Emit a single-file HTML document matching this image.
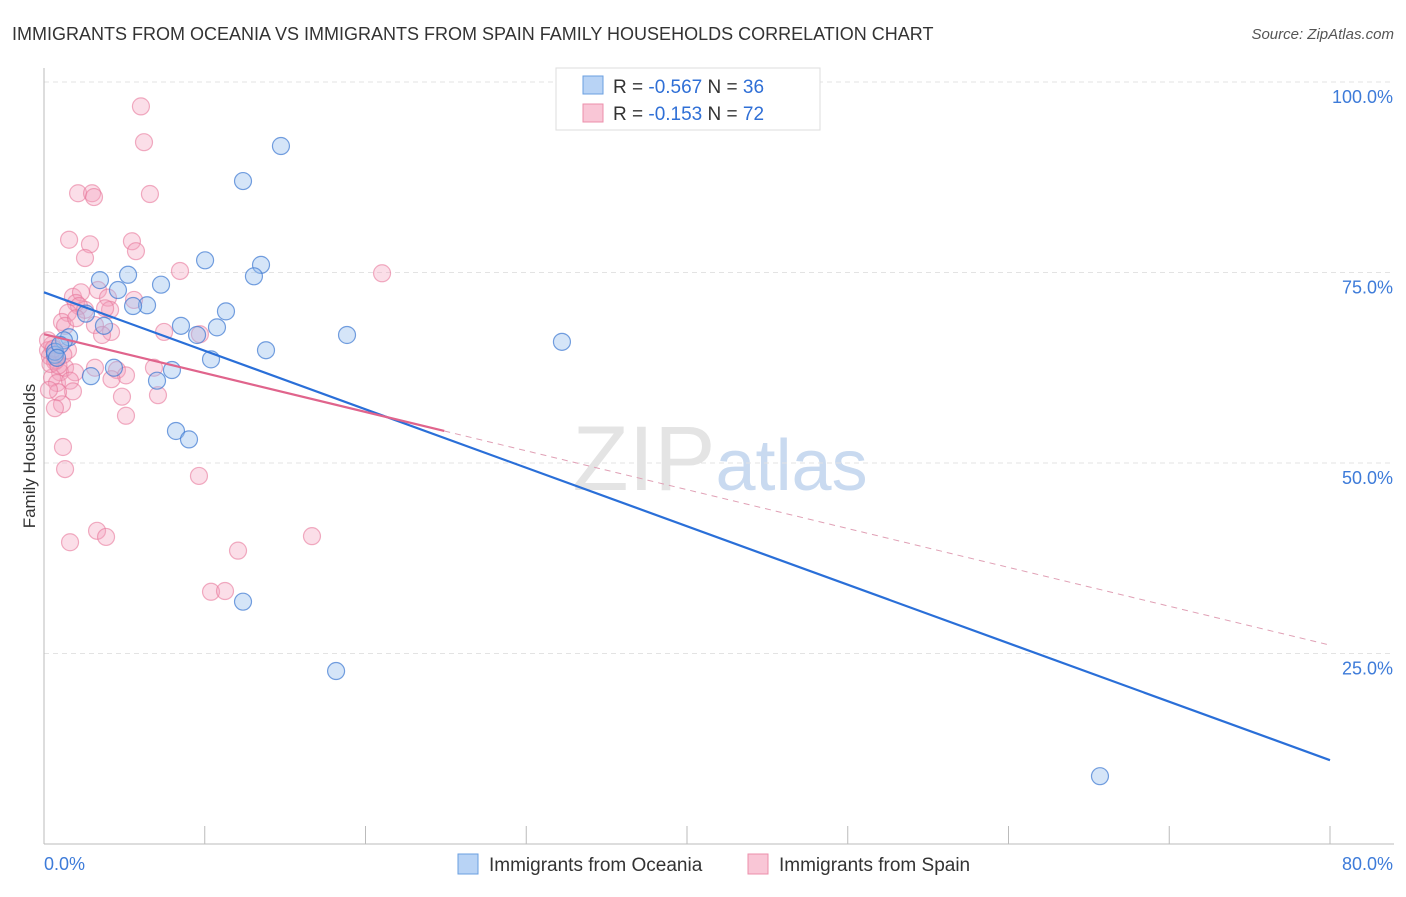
<!DOCTYPE html>
<html><head><meta charset="utf-8"><style>
body{margin:0;background:#fff;font-family:"Liberation Sans",sans-serif}
svg text{font-family:"Liberation Sans",sans-serif}
</style></head><body>
<svg id="c" width="1406" height="892">
<text x="12" y="40" font-size="18" fill="#333">IMMIGRANTS FROM OCEANIA VS IMMIGRANTS FROM SPAIN FAMILY HOUSEHOLDS CORRELATION CHART</text>
<text x="1394" y="39" font-size="15" fill="#555" text-anchor="end" font-style="italic">Source: ZipAtlas.com</text>
<text x="35" y="456" font-size="17" fill="#333" text-anchor="middle" transform="rotate(-90 35 456)">Family Households</text>
<text x="720" y="490" font-size="92" fill="#e4e4e4" text-anchor="middle" font-family="Liberation Serif">ZIP<tspan fill="#c9daf0" font-family="Liberation Sans" font-size="72">atlas</tspan></text>
<g id="grid"></g><g id="pts"></g><g id="lines"></g>
<g>
<rect x="556" y="68" width="264" height="62" fill="#fff" stroke="#ddd"/>
<rect x="583" y="76" width="20" height="18" fill="#b8d3f5" stroke="#6a9fe0"/>
<rect x="583" y="104" width="20" height="18" fill="#f9c6d6" stroke="#ec8fab"/>
<text x="613" y="93" font-size="19" fill="#333">R = <tspan fill="#2f6fd6">-0.567</tspan>   N = <tspan fill="#2f6fd6">36</tspan></text>
<text x="613" y="120" font-size="19" fill="#333">R =  <tspan fill="#2f6fd6">-0.153</tspan>   N = <tspan fill="#2f6fd6">72</tspan></text>
</g>
<g>
<rect x="458" y="854" width="20" height="20" fill="#b8d3f5" stroke="#6a9fe0"/>
<text x="489" y="871" font-size="19" fill="#333">Immigrants from Oceania</text>
<rect x="748" y="854" width="20" height="20" fill="#f9c6d6" stroke="#ec8fab"/>
<text x="779" y="871" font-size="19" fill="#333">Immigrants from Spain</text>
</g>
</svg>
<script>
const blueX=[14.74,12.38,10.02,13.50,13.06,3.48,5.23,7.28,4.60,6.41,5.54,11.32,8.52,10.76,3.73,9.52,18.85,32.22,13.81,1.56,1.24,10.39,0.68,0.68,4.35,7.96,2.92,7.03,8.21,9.02,12.38,18.17,65.69,2.61,1.00,0.81];
const blueY=[91.6,87.0,76.6,76.0,74.5,74.0,74.7,73.4,72.7,70.7,70.6,69.9,68.0,67.8,68.0,66.8,66.8,65.9,64.8,66.5,66.1,63.6,64.2,64.6,62.5,62.2,61.4,60.8,54.2,53.1,31.8,22.7,8.9,69.6,65.5,63.8];
const pinkX=[6.03,6.22,2.12,2.99,3.11,6.59,1.56,5.47,2.86,5.72,2.55,8.46,21.03,1.80,2.30,3.36,3.98,1.99,2.18,4.11,1.49,5.60,1.12,3.17,4.17,3.61,7.47,1.31,9.70,0.50,0.25,0.37,0.68,1.00,1.31,1.93,3.17,4.54,5.10,6.84,0.50,0.81,1.62,1.80,0.87,4.85,7.09,0.31,1.12,0.68,5.10,1.18,1.31,9.64,3.30,1.62,3.86,12.07,16.67,10.39,11.26,0.25,0.75,1.49,2.55,0.4,0.9,2.0,3.8,1.2,0.6,4.2];
const pinkY=[96.8,92.1,85.4,85.4,84.9,85.3,79.3,79.1,78.7,77.8,76.9,75.2,74.9,71.8,72.4,72.7,71.7,71.0,70.6,70.1,69.7,71.4,68.5,68.1,67.2,66.8,67.2,68.0,66.9,65.5,64.8,64.0,63.3,61.9,62.5,61.9,62.5,62.2,61.5,62.5,61.2,60.5,60.8,59.4,59.3,58.7,58.9,59.6,57.7,57.2,56.2,52.1,49.2,48.3,41.1,39.6,40.3,38.5,40.4,33.1,33.2,66.1,63.5,64.8,70.1,63.0,62.8,69.0,70.3,64.2,65.0,61.0];
const yTicks=[25,50,75,100];
const yTickLabels=["25.0%","50.0%","75.0%","100.0%"];
const xTicks=[0,10,20,30,40,50,60,70,80];
const xEndLabels=["0.0%","80.0%"];
const blueTrend=[72.4,11.0];
const pinkTrend=[66.9,26.1];
const pinkSolidEnd=24.9;
const NS="http://www.w3.org/2000/svg";
const X=v=>44+v/80*1286, Y=v=>844-v/100*762;
function mk(t,a,p){const e=document.createElementNS(NS,t);for(const k in a)e.setAttribute(k,a[k]);p.appendChild(e);return e;}
const g=document.getElementById('grid');
yTicks.forEach((t,i)=>{
 const l=mk('line',{x1:44,x2:1394,y1:Y(t),y2:Y(t),stroke:'#e3e3e3','stroke-dasharray':'5,4'},g);
 
 
 const tx=mk('text',{x:1393,y:Y(t)+21,'font-size':18,fill:'#3d7bd9','text-anchor':'end'},g);
 tx.textContent=yTickLabels[i];
 
 
});
mk('line',{x1:44,x2:44,y1:68,y2:844,stroke:'#bbb'},g);
mk('line',{x1:44,x2:1394,y1:844,y2:844,stroke:'#bbb'},g);
xTicks.forEach(t=>{const l=mk('line',{x1:X(t),x2:X(t),y1:826,y2:844,stroke:'#bbb'},g);
 
 });
const a=mk('text',{x:44,y:870,'font-size':18,fill:'#3d7bd9'},g);a.textContent=xEndLabels[0];


const b=mk('text',{x:1393,y:870,'font-size':18,fill:'#3d7bd9','text-anchor':'end'},g);b.textContent=xEndLabels[1];


const p=document.getElementById('pts');
pinkX.forEach((x,i)=>{const c=mk('circle',{cx:X(x),cy:Y(pinkY[i]),r:8.5,fill:'rgba(244,160,188,0.35)',stroke:'rgba(232,120,155,0.6)','stroke-width':1.2},p);
 
 });
blueX.forEach((x,i)=>{const c=mk('circle',{cx:X(x),cy:Y(blueY[i]),r:8.5,fill:'rgba(150,190,238,0.4)',stroke:'rgba(60,120,210,0.7)','stroke-width':1.2},p);
 
 });
const L=document.getElementById('lines');
const bl=mk('line',{x1:X(0),y1:Y(blueTrend[0]),x2:X(80),y2:Y(blueTrend[1]),stroke:'#2a6fd8','stroke-width':2.2},L);


const pm=v=>pinkTrend[0]+(pinkTrend[1]-pinkTrend[0])*v/80;
const ps=mk('line',{x1:X(0),y1:Y(pinkTrend[0]),x2:X(pinkSolidEnd),y2:Y(pm(pinkSolidEnd)),stroke:'#e0648c','stroke-width':2.2},L);


const pd=mk('line',{x1:X(pinkSolidEnd),y1:Y(pm(pinkSolidEnd)),x2:X(80),y2:Y(pinkTrend[1]),stroke:'#e0a0b5','stroke-width':1,'stroke-dasharray':'6,5'},L);


</script>
</body></html>
